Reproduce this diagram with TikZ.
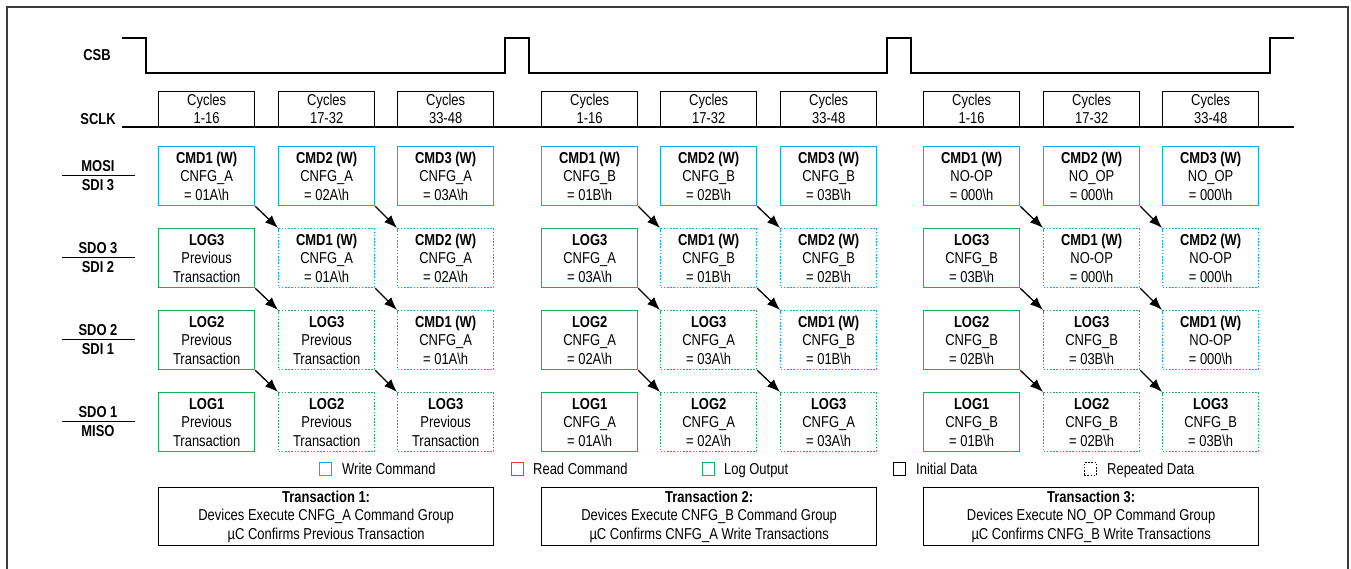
\documentclass[tikz,border=0pt]{standalone}
\usepackage{fontspec}
\setmainfont{Liberation Sans}[FakeStretch=0.82]
\usetikzlibrary{arrows.meta}
\definecolor{cblue}{RGB}{0,176,240}
\definecolor{cgreen}{RGB}{20,176,90}
\definecolor{cred}{RGB}{255,51,51}
\definecolor{framegray}{RGB}{60,60,60}
\newcommand{\fs}{\fontsize{15.8}{18.5}\selectfont}
\newcommand{\ctxt}[3]{\textbf{#1}\\#2\\#3}
\newcommand{\bsl}{\textbackslash}
\tikzset{
  base/.style={inner sep=0pt, align=center, font=\fs, text=black},
  cell/.style={base, draw, line width=1.3pt, minimum width=96pt, minimum height=59pt, anchor=north west},
  wc/.style={cell, draw=cblue},
  wcr/.style={cell, draw=cblue, dash pattern=on 1.6pt off 1.6pt},
  lg/.style={cell, draw=cgreen},
  lgr/.style={cell, draw=cgreen, dash pattern=on 1.6pt off 1.6pt},
  cyc/.style={base, draw=black, line width=1.3pt, minimum width=96pt, minimum height=35pt, anchor=south west},
  flow/.style={-{Latex[length=13pt,width=10pt]}, line width=1.3pt},
  sig/.style={line width=1.3pt},
  lbl/.style={base, font=\fs\bfseries},
  keybox/.style={draw, line width=1.3pt, minimum width=12.5pt, minimum height=12.5pt, inner sep=0pt},
  keytxt/.style={base, anchor=base west},
  trans/.style={base, draw=black, line width=1.3pt, minimum width=335pt, minimum height=58pt, anchor=north west},
}
\begin{document}
\begin{tikzpicture}[x=1pt,y=-1pt]
\useasboundingbox (0,0) rectangle (1351,569);
% frame
\draw[line width=2pt, framegray] (7,569) -- (7,7) -- (1348,7) -- (1348,569);

% signal labels
\node[lbl] (csb) at (97,55) {CSB};
\node[lbl] (sclk) at (98,119) {SCLK};
\node[lbl] (l1a) at (98,166) {MOSI};
\node[lbl] (l1b) at (98,185.5) {SDI 3};
\node[lbl] (l2a) at (98,248) {SDO 3};
\node[lbl] (l2b) at (98,267.5) {SDI 2};
\node[lbl] (l3a) at (98,330) {SDO 2};
\node[lbl] (l3b) at (98,349.5) {SDI 1};
\node[lbl] (l4a) at (98,412) {SDO 1};
\node[lbl] (l4b) at (98,431.5) {MISO};
\draw[sig] (62,175.5) -- (135,175.5);
\draw[sig] (62,257.5) -- (135,257.5);
\draw[sig] (62,339.5) -- (135,339.5);
\draw[sig] (62,421.5) -- (135,421.5);

% CSB waveform
\draw[sig] (122,38) -- (146,38) -- (146,73) -- (505,73) -- (505,38) -- (529,38) -- (529,73)
  -- (887,73) -- (887,38) -- (911,38) -- (911,73) -- (1270,73) -- (1270,38) -- (1294,38);

% SCLK cycles boxes
\node[cyc] (s1) at (158,127) {Cycles\\1-16};
\node[cyc] (s2) at (278,127) {Cycles\\17-32};
\node[cyc] (s3) at (397,127) {Cycles\\33-48};
\node[cyc] (s4) at (541,127) {Cycles\\1-16};
\node[cyc] (s5) at (660,127) {Cycles\\17-32};
\node[cyc] (s6) at (780,127) {Cycles\\33-48};
\node[cyc] (s7) at (923,127) {Cycles\\1-16};
\node[cyc] (s8) at (1043,127) {Cycles\\17-32};
\node[cyc] (s9) at (1162,127) {Cycles\\33-48};
\draw[sig] (122,127) -- (1294,127);

% ---------- Transaction 1 ----------
\node[wc]  (a11) at (158,146) {\ctxt{CMD1 (W)}{CNFG\_A}{= 01A\bsl h}};
\node[wc]  (a12) at (278,146) {\ctxt{CMD2 (W)}{CNFG\_A}{= 02A\bsl h}};
\node[wc]  (a13) at (397,146) {\ctxt{CMD3 (W)}{CNFG\_A}{= 03A\bsl h}};
\node[lg]  (a21) at (158,228) {\ctxt{LOG3}{Previous}{Transaction}};
\node[wcr] (a22) at (278,228) {\ctxt{CMD1 (W)}{CNFG\_A}{= 01A\bsl h}};
\node[wcr] (a23) at (397,228) {\ctxt{CMD2 (W)}{CNFG\_A}{= 02A\bsl h}};
\node[lg]  (a31) at (158,310) {\ctxt{LOG2}{Previous}{Transaction}};
\node[lgr] (a32) at (278,310) {\ctxt{LOG3}{Previous}{Transaction}};
\node[wcr] (a33) at (397,310) {\ctxt{CMD1 (W)}{CNFG\_A}{= 01A\bsl h}};
\node[lg]  (a41) at (158,392) {\ctxt{LOG1}{Previous}{Transaction}};
\node[lgr] (a42) at (278,392) {\ctxt{LOG2}{Previous}{Transaction}};
\node[lgr] (a43) at (397,392) {\ctxt{LOG3}{Previous}{Transaction}};

% ---------- Transaction 2 ----------
\node[wc]  (b11) at (541,146) {\ctxt{CMD1 (W)}{CNFG\_B}{= 01B\bsl h}};
\node[wc]  (b12) at (660,146) {\ctxt{CMD2 (W)}{CNFG\_B}{= 02B\bsl h}};
\node[wc]  (b13) at (780,146) {\ctxt{CMD3 (W)}{CNFG\_B}{= 03B\bsl h}};
\node[lg]  (b21) at (541,228) {\ctxt{LOG3}{CNFG\_A}{= 03A\bsl h}};
\node[wcr] (b22) at (660,228) {\ctxt{CMD1 (W)}{CNFG\_B}{= 01B\bsl h}};
\node[wcr] (b23) at (780,228) {\ctxt{CMD2 (W)}{CNFG\_B}{= 02B\bsl h}};
\node[lg]  (b31) at (541,310) {\ctxt{LOG2}{CNFG\_A}{= 02A\bsl h}};
\node[lgr] (b32) at (660,310) {\ctxt{LOG3}{CNFG\_A}{= 03A\bsl h}};
\node[wcr] (b33) at (780,310) {\ctxt{CMD1 (W)}{CNFG\_B}{= 01B\bsl h}};
\node[lg]  (b41) at (541,392) {\ctxt{LOG1}{CNFG\_A}{= 01A\bsl h}};
\node[lgr] (b42) at (660,392) {\ctxt{LOG2}{CNFG\_A}{= 02A\bsl h}};
\node[lgr] (b43) at (780,392) {\ctxt{LOG3}{CNFG\_A}{= 03A\bsl h}};

% ---------- Transaction 3 ----------
\node[wc]  (c11) at (923,146) {\ctxt{CMD1 (W)}{NO-OP}{= 000\bsl h}};
\node[wc]  (c12) at (1043,146) {\ctxt{CMD2 (W)}{NO\_OP}{= 000\bsl h}};
\node[wc]  (c13) at (1162,146) {\ctxt{CMD3 (W)}{NO\_OP}{= 000\bsl h}};
\node[lg]  (c21) at (923,228) {\ctxt{LOG3}{CNFG\_B}{= 03B\bsl h}};
\node[wcr] (c22) at (1043,228) {\ctxt{CMD1 (W)}{NO-OP}{= 000\bsl h}};
\node[wcr] (c23) at (1162,228) {\ctxt{CMD2 (W)}{NO-OP}{= 000\bsl h}};
\node[lg]  (c31) at (923,310) {\ctxt{LOG2}{CNFG\_B}{= 02B\bsl h}};
\node[lgr] (c32) at (1043,310) {\ctxt{LOG3}{CNFG\_B}{= 03B\bsl h}};
\node[wcr] (c33) at (1162,310) {\ctxt{CMD1 (W)}{NO-OP}{= 000\bsl h}};
\node[lg]  (c41) at (923,392) {\ctxt{LOG1}{CNFG\_B}{= 01B\bsl h}};
\node[lgr] (c42) at (1043,392) {\ctxt{LOG2}{CNFG\_B}{= 02B\bsl h}};
\node[lgr] (c43) at (1162,392) {\ctxt{LOG3}{CNFG\_B}{= 03B\bsl h}};

% arrows
\foreach \t in {a,b,c}{
  \foreach \r/\n in {1/2,2/3,3/4}{
    \draw[flow] (\t\r1.south east) -- (\t\n2.north west);
    \draw[flow] (\t\r2.south east) -- (\t\n3.north west);
  }
}

% legend
\node[keybox, draw=cblue] (k1) at (325.5,469) {};
\node[keytxt] (k1t) at (342,474.5) {Write Command};
\node[keybox, draw=cred] (k2) at (517.5,469) {};
\node[keytxt] (k2t) at (533,474.5) {Read Command};
\node[keybox, draw=cgreen] (k3) at (708.5,469) {};
\node[keytxt] (k3t) at (724,474.5) {Log Output};
\node[keybox, draw=black] (k4) at (899.5,469) {};
\node[keytxt] (k4t) at (916,474.5) {Initial Data};
\node[keybox, draw=black, dash pattern=on 1.6pt off 1.6pt] (k5) at (1090.5,469) {};
\node[keytxt] (k5t) at (1107,474.5) {Repeated Data};

% transaction boxes
\node[trans] (tr1) at (158,487) {\textbf{Transaction 1:}\\Devices Execute CNFG\_A Command Group\\µC Confirms Previous Transaction};
\node[trans] (tr2) at (541,487) {\textbf{Transaction 2:}\\Devices Execute CNFG\_B Command Group\\µC Confirms CNFG\_A Write Transactions};
\node[trans] (tr3) at (923,487) {\textbf{Transaction 3:}\\Devices Execute NO\_OP Command Group\\µC Confirms CNFG\_B Write Transactions};
\end{tikzpicture}
\end{document}
